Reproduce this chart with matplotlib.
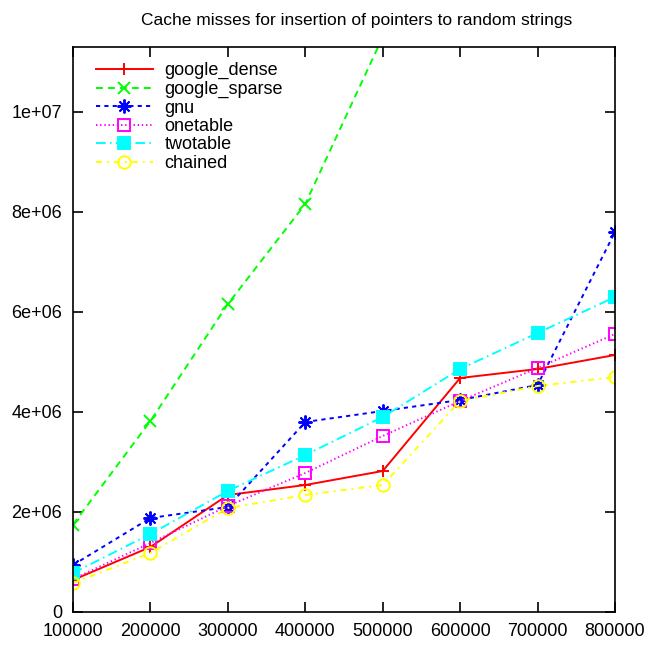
import matplotlib
matplotlib.use('Agg')
import matplotlib.pyplot as plt
from matplotlib.ticker import FuncFormatter, MultipleLocator

# data
sizes = [100000, 200000, 300000, 400000, 500000, 600000, 700000, 800000]
google_dense = [0.64e6, 1.30e6, 2.34e6, 2.54e6, 2.82e6, 4.68e6, 4.86e6, 5.14e6]
google_sparse = [1.75e6, 3.82e6, 6.16e6, 8.16e6, 1.15e7, 1.40e7, 1.62e7, 1.85e7]
gnu = [0.94e6, 1.88e6, 2.10e6, 3.80e6, 4.02e6, 4.24e6, 4.54e6, 7.60e6]
onetable = [0.66e6, 1.38e6, 2.12e6, 2.78e6, 3.52e6, 4.22e6, 4.88e6, 5.56e6]
twotable = [0.78e6, 1.56e6, 2.42e6, 3.14e6, 3.90e6, 4.86e6, 5.58e6, 6.30e6]
chained = [0.58e6, 1.18e6, 2.08e6, 2.34e6, 2.54e6, 4.22e6, 4.52e6, 4.70e6]

plt.rcParams['font.family'] = ['Liberation Sans', 'DejaVu Sans']
plt.rcParams['lines.scale_dashes'] = False

fig = plt.figure(figsize=(6.52, 6.46), dpi=100)
ax = fig.add_axes([73/652, 34/646, 542/652, 565/646])

lw = 1.4
ms = 9
ax.plot(sizes, google_dense, color='#ff0000', lw=lw, ls='-',
        marker='+', ms=ms, mew=lw, label='google_dense')
ax.plot(sizes, google_sparse, color='#00ff00', lw=lw, ls=(0, (5, 3.6)),
        marker='x', ms=ms, mew=lw, label='google_sparse')
ax.plot(sizes, gnu, color='#0000ff', lw=lw, ls=(0, (3, 3)),
        marker=(8, 2, 0), ms=ms+1, mew=lw, label='gnu')
ax.plot(sizes, onetable, color='#ff00ff', lw=lw, ls=(0, (1, 2)),
        marker='s', ms=ms, mew=lw, mfc='none', label='onetable')
ax.plot(sizes, twotable, color='#00ffff', lw=lw, ls=(0, (7, 3, 1.2, 3)),
        marker='s', ms=ms-1, mew=lw, label='twotable')
ax.plot(sizes, chained, color='#ffff00', lw=lw, ls=(0, (4.3, 3.6, 1.4, 3.6)),
        marker='o', ms=ms, mew=lw, mfc='none', label='chained')

ax.set_xlim(100000, 800000)
ax.set_ylim(0, 1.13e7)
ax.xaxis.set_major_locator(MultipleLocator(100000))
ax.yaxis.set_major_locator(MultipleLocator(2e6))
ax.yaxis.set_major_formatter(FuncFormatter(lambda v, p: '0' if v == 0 else '%g' % v))
ax.xaxis.set_major_formatter(FuncFormatter(lambda v, p: '%d' % v))

for s in ax.spines.values():
    s.set_linewidth(1.2)
ax.tick_params(direction='in', length=7, width=1.2, top=True, right=True,
               labelsize=13, pad=8)

ax.legend(loc='upper left', bbox_to_anchor=(0.042, 0.973), borderaxespad=0,
          borderpad=0, frameon=False, fontsize=13, handlelength=3.15,
          handletextpad=0.65, labelspacing=0.08)

fig.text(357/652, 1 - 20/646, 'Cache misses for insertion of pointers to random strings',
         ha='center', va='center', fontsize=12.5)

fig.savefig('out.png', dpi=100)
